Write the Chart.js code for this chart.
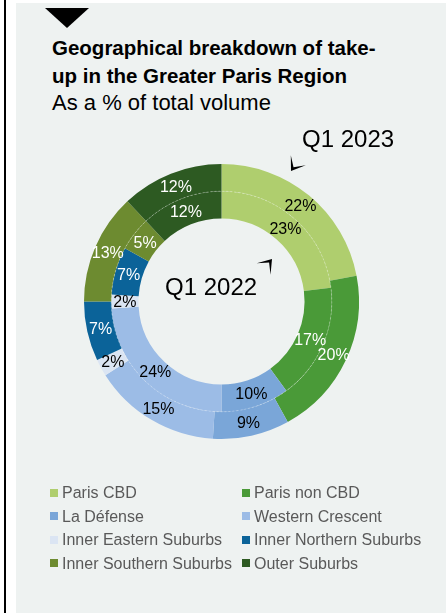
<!DOCTYPE html>
<html>
<head>
<meta charset="utf-8">
<title>Take-up Greater Paris Region</title>
<script src="https://cdn.jsdelivr.net/npm/chart.js@4.4.0/dist/chart.umd.min.js"></script>
<style>
  html, body { margin: 0; padding: 0; }
  body {
    width: 446px; height: 613px; position: relative; overflow: hidden;
    background: #fff; font-family: "Liberation Sans", Arial, sans-serif;
  }
  #rule { position: absolute; left: 4px; top: 0; width: 2px; height: 613px; background: #000; }
  #panel { position: absolute; left: 16px; top: 3px; right: 0; bottom: 0; background: #eef2f1; }
  #marker {
    position: absolute; left: 45px; top: 8px; width: 0; height: 0;
    border-left: 22.5px solid transparent; border-right: 22.5px solid transparent;
    border-top: 20px solid #000;
  }
  #title {
    position: absolute; left: 52px; top: 34px; margin: 0;
    font-size: 20.5px; font-weight: bold; line-height: 28px; color: #000;
  }
  #subtitle { position: absolute; left: 52px; top: 88.5px; font-size: 22px; line-height: 28px; color: #000; }
  #chart { position: absolute; left: 0; top: 0; }
  #legend {
    position: absolute; left: 50px; top: 481px;
    display: grid; grid-template-columns: 192px 192px;
    font-size: 16px; line-height: 23.5px; color: #595959;
  }
  .item { display: flex; align-items: center; white-space: nowrap; }
  .box { width: 8px; height: 8px; margin-right: 4px; flex: none; }
</style>
</head>
<body>
<div id="rule"></div>
<div id="panel"></div>
<div id="marker"></div>
<div id="title">Geographical breakdown of take-<br>up in the Greater Paris Region</div>
<div id="subtitle">As a % of total volume</div>
<canvas id="chart" width="446" height="613"></canvas>
<div id="legend"></div>

<script>
// --- DATOS ---
const areas = ['Paris CBD', 'Paris non CBD', 'La Défense', 'Western Crescent',
  'Inner Eastern Suburbs', 'Inner Northern Suburbs', 'Inner Southern Suburbs', 'Outer Suburbs'];
const q1_2023 = [22, 20, 9, 15, 2, 7, 13, 12];
const q1_2022 = [23, 17, 10, 24, 2, 7, 5, 12];
const periods = ['Q1 2023', 'Q1 2022'];

const colors = ['#afce6e', '#4a9a38', '#7aa6d8', '#9cbce6', '#dbe5f3', '#0b6399', '#6d8b30', '#2d5a22'];

// texto blanco sobre los segmentos oscuros
function textColorFor(hex) {
  const r = parseInt(hex.slice(1, 3), 16), g = parseInt(hex.slice(3, 5), 16), b = parseInt(hex.slice(5, 7), 16);
  return (0.299 * r + 0.587 * g + 0.114 * b) < 140 ? '#fff' : '#000';
}

// punta de flecha
function arrowHead(ctx, x, y, angleDeg) {
  const a = angleDeg * Math.PI / 180;
  ctx.save();
  ctx.translate(x, y);
  ctx.rotate(a);
  ctx.beginPath();
  ctx.moveTo(0, 0);
  ctx.lineTo(-13, -9);
  ctx.lineTo(-4.5, 0);
  ctx.lineTo(-13, 9);
  ctx.closePath();
  ctx.fillStyle = '#000';
  ctx.fill();
  ctx.restore();
}

const ringLabels = {
  id: 'ringLabels',
  afterDatasetsDraw(chart) {
    const ctx = chart.ctx;
    const outer = chart.getDatasetMeta(0).data[0];
    const cx = outer.x, cy = outer.y;

    // separador fino entre anillos
    ctx.save();
    ctx.beginPath();
    ctx.arc(cx, cy, outer.innerRadius, 0, Math.PI * 2);
    ctx.strokeStyle = 'rgba(255,255,255,0.45)';
    ctx.lineWidth = 0.7;
    ctx.setLineDash([2, 2]);
    ctx.stroke();
    ctx.restore();

    // porcentajes
    ctx.save();
    ctx.font = '16px "Liberation Sans", Arial, sans-serif';
    ctx.textAlign = 'center';
    ctx.textBaseline = 'middle';
    chart.data.datasets.forEach((ds, d) => {
      chart.getDatasetMeta(d).data.forEach((arc, i) => {
        const p = arc.tooltipPosition();
        ctx.fillStyle = textColorFor(colors[i]);
        ctx.fillText(ds.data[i] + '%', p.x, p.y + 1);
      });
    });

    // etiquetas de periodo
    ctx.font = '24px "Liberation Sans", Arial, sans-serif';
    ctx.textAlign = 'left';
    ctx.textBaseline = 'alphabetic';
    ctx.fillStyle = '#000';
    ctx.fillText(periods[0], cx + 80.5, cy - 154.5);
    ctx.fillText(periods[1], cx - 56.5, cy - 6.5);
    arrowHead(ctx, cx + 69.5, cy - 130.5, 124);
    arrowHead(ctx, cx + 50.5, cy - 42.5, -50);
    ctx.restore();
  }
};

new Chart(document.getElementById('chart'), {
  type: 'doughnut',
  data: {
    labels: areas,
    datasets: [
      { label: periods[0], data: q1_2023, backgroundColor: colors, borderWidth: 0 },
      { label: periods[1], data: q1_2022, backgroundColor: colors, borderWidth: 0 }
    ]
  },
  options: {
    responsive: false,
    animation: false,
    devicePixelRatio: 1,
    cutout: '60.4%',
    layout: { padding: { left: 84, right: 87, top: 164, bottom: 174 } },
    plugins: { legend: { display: false }, tooltip: { enabled: false } }
  },
  plugins: [ringLabels]
});

// leyenda en dos columnas
const legend = document.getElementById('legend');
legend.innerHTML = areas.map((name, i) =>
  `<div class="item"><span class="box" style="background:${colors[i]}"></span>${name}</div>`
).join('');
</script>
</body>
</html>
